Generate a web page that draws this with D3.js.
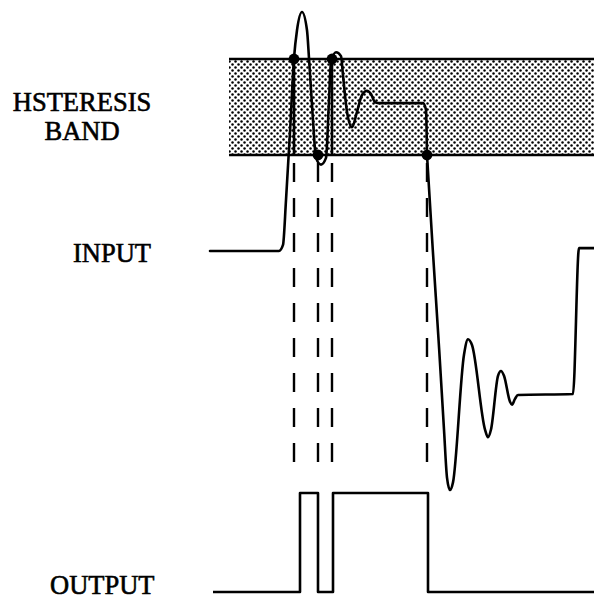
<!DOCTYPE html>
<html><head><meta charset="utf-8">
<script src="https://cdn.jsdelivr.net/npm/d3@7"></script>
<style>html,body{margin:0;padding:0;background:#fff;}svg{display:block;}</style>
</head><body>
<script>
// ---- data (time units, amplitude units) ----
const bandLow = 10, bandHigh = 20;            // hysteresis thresholds
const bandStart = 4.75, timeEnd = 96;
const inputT = [0,17.25,18.25,19,20,21,21.75,23,24.25,24.75,25.75,26.5,27.75,29,29.75,30.25,31.5,32.75,33.25,34.25,35.5,36.75,38,39.25,40.25,41.25,42.5,53.25,54,54.25,55.7,57.3,58.5,59.25,60,60.75,63.5,64.5,65.5,68.75,69.5,70.25,72,72.75,73.5,75,75.5,76.25,77,90.75,92.25,96];
const inputV = [0,0,0.63,5.3,12.4,20.1,23,24.9,23,20.1,13.6,9.7,9,9.7,15.7,19.7,20.7,20.3,18.3,14.5,12.9,14.5,16.25,16.7,16.35,15.5,15.4,15.4,14.7,10,0.1,-10.3,-18.6,-23.6,-24.9,-24.1,-10.8,-9.2,-9.8,-18.6,-19.4,-18.6,-13,-12.5,-13,-15.7,-16,-15.4,-15,-14.9,0.3,0.3];
const crossT = [21, 27, 30.5, 54.25];          // threshold crossings
const crossV = [20, 10, 20, 10];
const outEdgeT = [22.5, 27, 30.75, 54.5];     // output transitions
const outStart = 0.75;
const labels = ["HSTERESIS", "BAND", "INPUT", "OUTPUT"];

const W = 594, H = 599;
const svg = d3.select("body").append("svg").attr("width", W).attr("height", H);
const x = d3.scaleLinear().domain([0, 96]).range([210, 594]);
const y = d3.scaleLinear().domain([0, 10]).range([251, 155]);
const yOut = d3.scaleLinear().domain([0, 1]).range([592, 493]);

// pattern
const defs = svg.append("defs");
const pat = defs.append("pattern").attr("id","dots").attr("patternUnits","userSpaceOnUse")
  .attr("width",6).attr("height",6);
pat.append("circle").attr("cx",1.5).attr("cy",1.5).attr("r",1.25).attr("fill","#000");
pat.append("circle").attr("cx",4.5).attr("cy",4.5).attr("r",1.25).attr("fill","#000");

// band
svg.append("rect").attr("x", x(bandStart)).attr("y", y(bandHigh))
  .attr("width", x(timeEnd) - x(bandStart)).attr("height", y(bandLow) - y(bandHigh))
  .attr("fill","url(#dots)");
[bandHigh, bandLow].forEach(v => {
  svg.append("line").attr("x1", x(bandStart)).attr("x2", x(timeEnd))
    .attr("y1", y(v)).attr("y2", y(v)).attr("stroke","#000").attr("stroke-width",2.6);
});

// dashed projection lines
crossT.forEach((t, i) => {
  if (crossV[i] === bandHigh) {
    svg.append("line").attr("x1", x(t)).attr("x2", x(t)).attr("y1", y(bandHigh)).attr("y2", y(bandLow))
      .attr("stroke","#000").attr("stroke-width",2.6);
  }
  svg.append("line").attr("x1", x(t)).attr("x2", x(t))
    .attr("y1", y(bandLow) + 8).attr("y2", yOut(1) - 18)
    .attr("stroke","#000").attr("stroke-width",2.4).attr("stroke-dasharray","19,16");
});

// input curve (split at the last crossing so the kink there stays sharp)
const pts = inputT.map((t, i) => [t, inputV[i]]);
const splitIdx = inputT.indexOf(crossT[3]);
const segs = [pts.slice(0, splitIdx + 1), pts.slice(splitIdx)];
const inLine = d3.line().x(d => x(d[0])).y(d => y(d[1])).curve(d3.curveMonotoneX);
segs.forEach(s => {
  svg.append("path").datum(s).attr("d", inLine)
    .attr("fill","none").attr("stroke","#000").attr("stroke-width",2.6)
    .attr("stroke-linejoin","round").attr("stroke-linecap","round");
});

// output step
const outPts = [[outStart, 0]];
let lvl = 0;
outEdgeT.forEach(t => { outPts.push([t, lvl]); lvl = 1 - lvl; outPts.push([t, lvl]); });
outPts.push([timeEnd, lvl]);
svg.append("path").datum(outPts)
  .attr("d", d3.line().x(d => x(d[0])).y(d => yOut(d[1])))
  .attr("fill","none").attr("stroke","#000").attr("stroke-width",2.6).attr("stroke-linejoin","round");

// dots
crossT.forEach((t, i) => {
  svg.append("circle").attr("cx", x(t)).attr("cy", y(crossV[i])).attr("r", 5.4).attr("fill","#000");
});

// labels
const font = "'Liberation Serif', 'Times New Roman', serif";
const lab = [[labels[0], 82, 111, "middle"], [labels[1], 82, 140, "middle"], [labels[2], 73, 262, "start"], [labels[3], 50, 594, "start"]];
lab.forEach(l => {
  svg.append("text").attr("x", l[1]).attr("y", l[2]).attr("text-anchor", l[3])
    .attr("font-family", font).attr("font-size", 26.5).attr("fill","#000")
    .attr("stroke","#000").attr("stroke-width",0.6).text(l[0]);
});
</script>
</body></html>
